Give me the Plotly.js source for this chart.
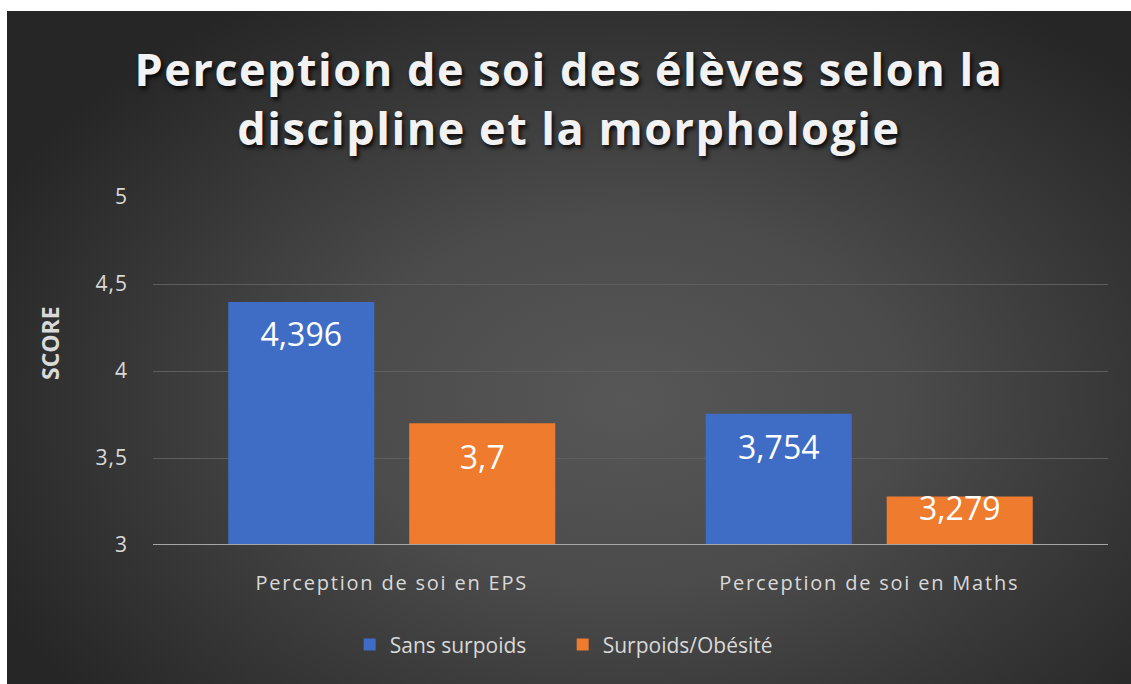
<!DOCTYPE html>
<html>
<head>
<meta charset="utf-8">
<script src="https://cdn.plot.ly/plotly-3.0.1.min.js"></script>
<style>
  html, body { margin: 0; padding: 0; background: #ffffff; }
  #chart {
    position: absolute; left: 7px; top: 11px; width: 1124px; height: 673px;
    background: radial-gradient(ellipse 62% 70% at 55% 58%, #575757 0%, #4b4b4b 40%, #353535 75%, #262626 100%);
  }
  #chart .gtitle { letter-spacing: 1.5px; }
  #chart .xtick text { letter-spacing: 1.8px; }
  #chart .ytick text { letter-spacing: 1px; }
</style>
</head>
<body>
<div id="chart"></div>
<script>
const categories = ["Perception de soi en EPS", "Perception de soi en Maths"];
const seriesNames = ["Sans surpoids", "Surpoids/Obésité"];
const sansSurpoids = [4.396, 3.754];
const surpoidsObesite = [3.7, 3.279];
const yTickVals = [3, 3.5, 4, 4.5, 5];
const seriesColors = ["#3f6dc6", "#ee7b2e"];

const fmt = v => String(v).replace('.', ',');

function barTrace(name, values, color, group) {
  return {
    type: 'bar',
    name: name,
    x: categories,
    y: values,
    offsetgroup: group,
    marker: { color: color, line: { width: 0 } },
    hoverinfo: 'x+y',
    cliponaxis: true
  };
}

// value labels: transparent markers + text placed just under the top of each bar
function labelTrace(name, values, group, labelOffsets) {
  return {
    type: 'scatter',
    mode: 'markers+text',
    name: name,
    showlegend: false,
    x: categories,
    y: values,
    offsetgroup: group,
    marker: { size: labelOffsets, opacity: 0, color: '#ffffff' },
    text: values.map(fmt),
    textposition: 'bottom center',
    textfont: { family: 'Open Sans, sans-serif', size: 32, color: '#ffffff' },
    hoverinfo: 'skip',
    cliponaxis: false
  };
}

const data = [
  barTrace(seriesNames[0], sansSurpoids, seriesColors[0], 'a'),
  barTrace(seriesNames[1], surpoidsObesite, seriesColors[1], 'b'),
  labelTrace(seriesNames[0], sansSurpoids, 'a', [30, 32]),
  labelTrace(seriesNames[1], surpoidsObesite, 'b', [34, 0])
];

const layout = {
  width: 1124,
  height: 673,
  paper_bgcolor: 'rgba(0,0,0,0)',
  plot_bgcolor: 'rgba(0,0,0,0)',
  separators: ', ',
  margin: { l: 146, r: 23, t: 186, b: 139 },
  barmode: 'group',
  bargap: 0.242,
  bargroupgap: 0.193,
  scattermode: 'group',
  scattergap: 0.242,
  title: {
    text: 'Perception de soi des élèves selon la<br>discipline et la morphologie',
    x: 0.5, xref: 'container', xanchor: 'center',
    y: 0.888, yref: 'container', yanchor: 'middle',
    font: { family: 'Open Sans, sans-serif', size: 45, weight: 'bold', color: '#f2f2f2',
            shadow: '2px 3px 4px rgba(0,0,0,0.85)' }
  },
  xaxis: {
    type: 'category',
    showgrid: false,
    zeroline: false,
    showline: false,
    ticks: '',
    ticklabelstandoff: 24,
    tickfont: { family: 'Open Sans, sans-serif', size: 20, color: '#d9d9d9' }
  },
  yaxis: {
    range: [3, 5],
    tickvals: yTickVals,
    ticktext: yTickVals.map(fmt),
    showgrid: true,
    gridcolor: '#5e5e5e',
    gridwidth: 1,
    zeroline: false,
    showline: false,
    ticks: '',
    ticklabelstandoff: 24,
    tickfont: { family: 'Open Sans, sans-serif', size: 21, color: '#d9d9d9' }
  },
  shapes: [{
    type: 'line', xref: 'paper', yref: 'y', x0: 0, x1: 1, y0: 3, y1: 3,
    line: { color: '#a6a6a6', width: 2 }, layer: 'above'
  }],
  annotations: [{
    text: 'SCORE', xref: 'paper', yref: 'paper', x: -0.108, y: 0.58,
    xanchor: 'center', yanchor: 'middle', textangle: -90, showarrow: false,
    font: { family: 'Open Sans, sans-serif', size: 23, weight: 'bold', color: '#d9d9d9' }
  }],
  legend: {
    orientation: 'h',
    x: 0.429, xanchor: 'center',
    y: -0.287, yanchor: 'middle',
    font: { family: 'Open Sans, sans-serif', size: 21, color: '#d9d9d9' },
    entrywidth: 168,
    entrywidthmode: 'pixels',
    itemwidth: 30,
    tracegroupgap: 0,
    bgcolor: 'rgba(0,0,0,0)'
  },
  showlegend: true
};

Plotly.newPlot('chart', data, layout, { displayModeBar: false, staticPlot: true });
</script>
</body>
</html>
